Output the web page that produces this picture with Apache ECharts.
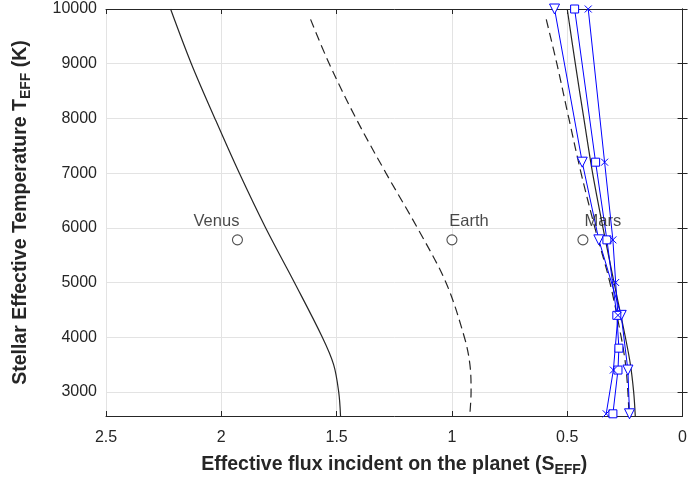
<!DOCTYPE html>
<html>
<head>
<meta charset="utf-8">
<script src="https://cdn.jsdelivr.net/npm/echarts@6/dist/echarts.min.js"></script>
<style>
    html, body { margin: 0; padding: 0; background: #fff; }
    #hzChart { width: 690px; height: 482px; }
</style>
</head>
<body>
<div id="hzChart"></div>
<script>
/* habitable zone limits, S_eff vs T_eff */

var tempTicks = [3000, 4000, 5000, 6000, 7000, 8000, 9000, 10000];

var venusT = [10000, 9000, 8000, 7000, 6000, 5000, 4000, 3500, 3000, 2560];
var venusS = [2.22, 2.13, 2.028, 1.922, 1.808, 1.683, 1.562, 1.513, 1.491, 1.483];

var runawayT = [9810, 9000, 8000, 7000, 6000, 5000, 4000, 3500, 3000, 2560];
var runawayS = [1.613, 1.532, 1.416, 1.286, 1.15, 1.026, 0.946, 0.922, 0.917, 0.923];

var maxGreenT = [9810, 9000, 8000, 7000, 6000, 5000, 4000, 3500, 3000, 2560];
var maxGreenS = [0.591, 0.545, 0.493, 0.44, 0.38, 0.315, 0.266, 0.247, 0.237, 0.232];

var earlyMarsT = [10000, 9000, 8000, 7000, 6000, 5000, 4000, 3500, 3000, 2560];
var earlyMarsS = [0.50, 0.465, 0.428, 0.39, 0.345, 0.297, 0.248, 0.226, 0.212, 0.205];

var triT = [10000, 7200, 5780, 4400, 3400, 2600];
var triS = [0.555, 0.435, 0.363, 0.266, 0.237, 0.230];

var sqT = [10000, 7200, 5780, 4400, 3800, 3400, 2600];
var sqS = [0.468, 0.377, 0.328, 0.285, 0.276, 0.28, 0.302];

var crossT = [10000, 7200, 5780, 5000, 4400, 3400, 2600];
var crossS = [0.409, 0.338, 0.302, 0.290, 0.280, 0.300, 0.331];

var planetNames = ['Venus', 'Earth', 'Mars'];
var planetS = [1.93, 1.0, 0.432];
var planetT = [5780, 5780, 5780];


function pairs(xs, ys) {
    var out = [];
    for (var i = 0; i < xs.length; i++) {
        out.push([xs[i], ys[i]]);
    }
    return out;
}

var FONT = 'Liberation Sans, Arial, Helvetica, sans-serif';
var TXT = '#262626';
var BLUE = '#0000ff';
var crossPath = 'path://M0,0L10,10M10,0L0,10';
var labelOffsets = [[-21, 0], [17, 0], [20, 0]];

function loadHzChart() {
    var chart = echarts.init(document.getElementById('hzChart'));

    var planetData = [];
    for (var i = 0; i < planetNames.length; i++) {
        planetData.push({
            value: [planetS[i], planetT[i]],
            name: planetNames[i],
            label: {offset: labelOffsets[i]}
        });
    }

    var blueLine = function (name, xs, ys, symbol, size, rotate) {
        return {
            name: name,
            type: 'line',
            data: pairs(xs, ys),
            symbol: symbol,
            symbolSize: size,
            symbolRotate: rotate,
            showAllSymbol: true,
            lineStyle: {color: BLUE, width: 1},
            itemStyle: {color: '#fff', borderColor: BLUE, borderWidth: 1},
            emphasis: {disabled: true},
            z: 3
        };
    };

    var blackLine = function (name, xs, ys, dash) {
        return {
            name: name,
            type: 'line',
            data: pairs(xs, ys),
            smooth: 0.35,
            showSymbol: false,
            lineStyle: {color: '#262626', width: 1.2, type: dash},
            z: 2
        };
    };

    var titleStyle = {
        color: TXT, fontSize: 19.5, fontWeight: 'bold', fontFamily: FONT,
        rich: {sub: {fontSize: 14, fontWeight: 'bold', color: TXT, padding: [11, 0, 0, 0], fontFamily: FONT}}
    };

    var option = {
        animation: false,
        textStyle: {fontFamily: FONT},
        grid: {left: 106, right: 7, top: 9, bottom: 65},
        xAxis: [
            {
                type: 'value',
                inverse: true,
                min: 0,
                max: 2.5,
                interval: 0.5,
                name: 'Effective flux incident on the planet (S{sub|EFF})',
                nameLocation: 'middle',
                nameGap: 36,
                nameTextStyle: titleStyle,
                axisLine: {show: true, lineStyle: {color: TXT, width: 1}},
                axisTick: {show: true, inside: true, length: 5, lineStyle: {color: TXT}},
                axisLabel: {color: TXT, fontSize: 16, margin: 14, fontFamily: FONT},
                splitLine: {show: true, lineStyle: {color: '#e3e3e3', width: 1}}
            },
            {
                type: 'value',
                position: 'top',
                inverse: true,
                min: 0,
                max: 2.5,
                interval: 0.5,
                axisLine: {show: true, lineStyle: {color: TXT, width: 1}},
                axisTick: {show: true, inside: true, length: 5, lineStyle: {color: TXT}},
                axisLabel: {show: false},
                splitLine: {show: false}
            }
        ],
        yAxis: [
            {
                type: 'value',
                min: 2560,
                max: 10000,
                name: 'Stellar Effective Temperature T{sub|EFF} (K)',
                nameLocation: 'middle',
                nameGap: 73,
                nameTextStyle: titleStyle,
                axisLine: {show: true, lineStyle: {color: TXT, width: 1}},
                axisTick: {show: true, inside: true, length: 5, customValues: tempTicks, lineStyle: {color: TXT}},
                axisLabel: {
                    color: TXT, fontSize: 16, margin: 9, customValues: tempTicks, fontFamily: FONT,
                    formatter: function (v) { return String(v); }
                },
                splitLine: {show: true, lineStyle: {color: '#e3e3e3', width: 1}}
            },
            {
                type: 'value',
                position: 'right',
                min: 2560,
                max: 10000,
                axisLine: {show: true, lineStyle: {color: TXT, width: 1}},
                axisTick: {show: true, inside: true, length: 5, customValues: tempTicks, lineStyle: {color: TXT}},
                axisLabel: {show: false},
                splitLine: {show: false}
            }
        ],
        series: [
            blackLine('Recent Venus', venusS, venusT, 'solid'),
            blackLine('Runaway greenhouse', runawayS, runawayT, [9, 5]),
            blackLine('Maximum greenhouse', maxGreenS, maxGreenT, [9, 5]),
            blackLine('Early Mars', earlyMarsS, earlyMarsT, 'solid'),
            blueLine('Model A', triS, triT, 'triangle', 10, 180),
            blueLine('Model B', sqS, sqT, 'rect', 8, 0),
            blueLine('Model C', crossS, crossT, crossPath, 7, 0),
            {
                name: 'Planets',
                type: 'scatter',
                data: planetData,
                symbol: 'circle',
                symbolSize: 10,
                itemStyle: {color: '#fff', borderColor: '#262626', borderWidth: 1.1},
                label: {
                    show: true,
                    position: 'top',
                    distance: 4,
                    formatter: '{b}',
                    color: '#1a1a1a',
                    fontSize: 16.5,
                    fontFamily: FONT
                },
                z: 4
            }
        ]
    };

    chart.setOption(option);
}

loadHzChart();
</script>
</body>
</html>
